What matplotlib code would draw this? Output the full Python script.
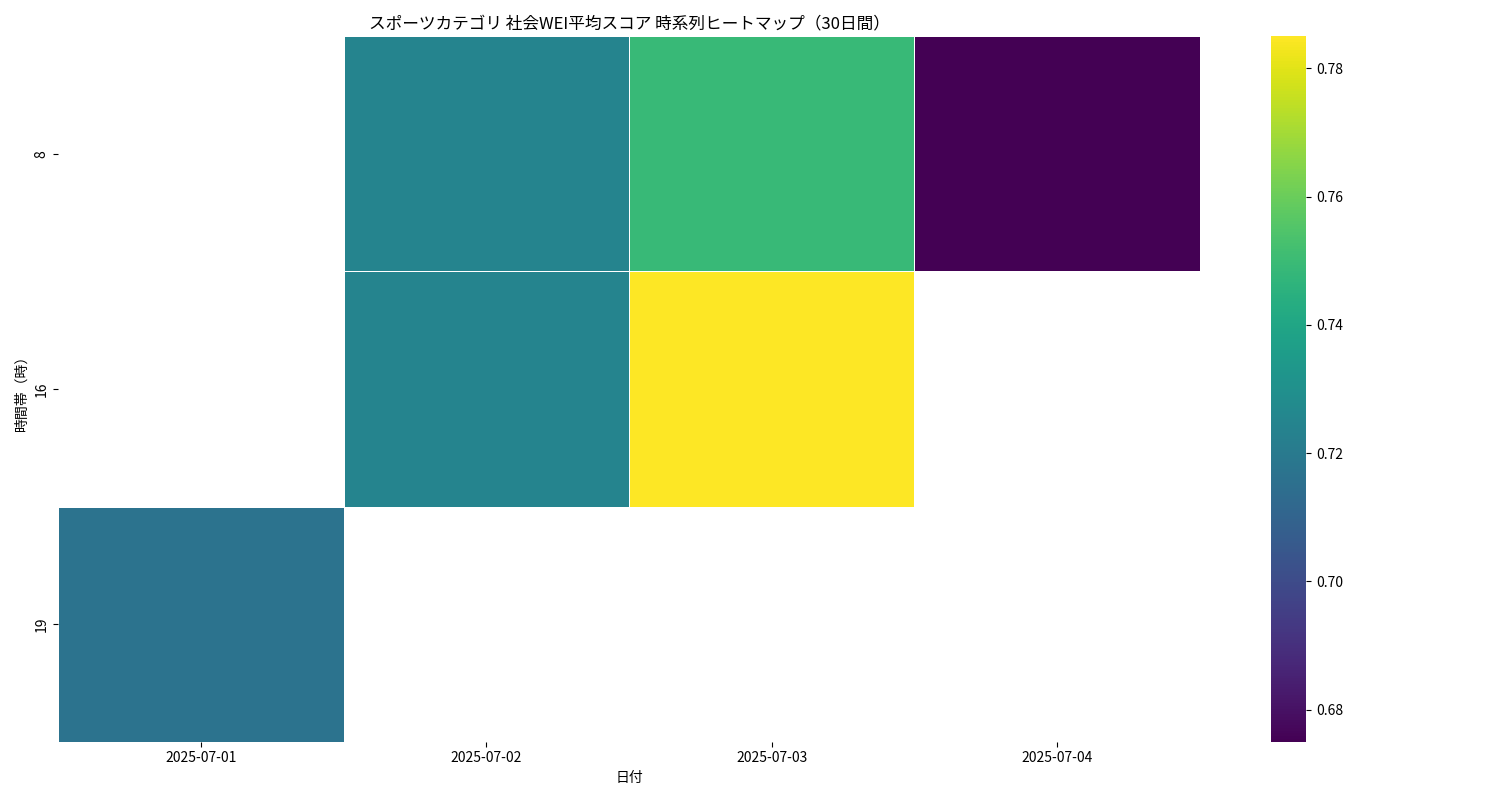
import numpy as np
import pandas as pd
import matplotlib
matplotlib.use("Agg")
import matplotlib.pyplot as plt
import seaborn as sns

plt.rcParams['font.family'] = ['Noto Sans CJK JP', 'DejaVu Sans']

dates = ["2025-07-01", "2025-07-02", "2025-07-03", "2025-07-04"]
hours = [8, 16, 19]
wei_8 = [np.nan, 0.7245, 0.749, 0.675]
wei_16 = [np.nan, 0.7245, 0.785, np.nan]
wei_19 = [0.717, np.nan, np.nan, np.nan]

pivot = pd.DataFrame([wei_8, wei_16, wei_19], index=hours, columns=dates)

fig, ax = plt.subplots(figsize=(15, 8))
sns.heatmap(pivot, cmap="viridis", linewidths=0.5, linecolor="white", ax=ax)
ax.set_title("スポーツカテゴリ 社会WEI平均スコア 時系列ヒートマップ（30日間）")
ax.set_xlabel("日付")
ax.set_ylabel("時間帯（時）")
plt.tight_layout()
fig.savefig("out.png", dpi=100)
